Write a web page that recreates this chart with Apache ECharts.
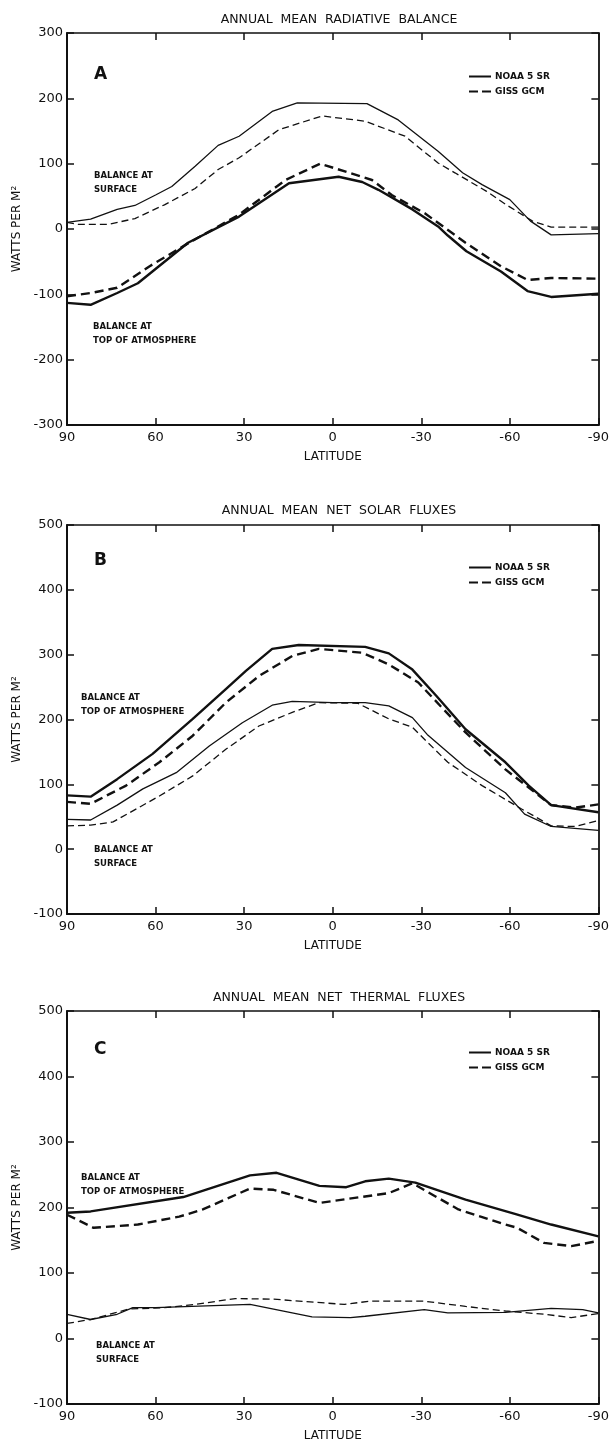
<!DOCTYPE html>
<html><head><meta charset="utf-8">
<script src="https://cdn.jsdelivr.net/npm/echarts@6/dist/echarts.min.js"></script>
<style>html,body{margin:0;padding:0;background:#fff}#c{width:612px;height:1443px}</style>
</head><body><div id="c"></div>
<script>
// ---------- Panel A: annual mean radiative balance ----------
const latA_noaaSfc = [90, 82, 73, 67, 60, 54.5, 46.6, 38.8, 31.7, 20.5, 12, -11.6, -22.2, -35.7, -44, -50.6, -60, -67, -74, -90];
const valA_noaaSfc = [10, 15, 30, 36, 52, 65, 96, 128, 142, 180, 193, 192, 167, 119, 86, 68, 45, 12, -9, -7];
const latA_gissSfc = [90, 86, 76, 67, 57, 46.6, 38.8, 31.7, 18.2, 3.6, -11, -24.5, -35.7, -41.4, -52, -58.5, -67.7, -74, -90];
const valA_gissSfc = [10, 7, 7, 16, 37, 62, 91, 109, 152, 173, 165, 142, 101, 86, 58, 38, 12, 3, 3];
const latA_noaaToa = [90, 82, 73, 66, 49, 31.7, 14.8, -2, -10, -15.5, -27, -35.7, -39, -45.3, -57, -66, -74, -90];
const valA_noaaToa = [-113, -116, -98, -83, -21, 19, 70, 80, 72, 60, 30, 4, -10, -34, -65, -95, -104, -99];
const latA_gissToa = [90, 82, 73, 62, 49, 31.7, 16, 4.2, -13.3, -20, -31.2, -45, -57, -66, -74, -90];
const valA_gissToa = [-103, -98, -90, -57, -22, 22, 75, 100, 75, 52, 24, -21, -57, -78, -75, -76];

// ---------- Panel B: annual mean net solar fluxes ----------
const latB_noaaToa = [90, 82, 73, 61, 47.4, 36.2, 29.4, 20.5, 11.5, -11, -19, -27, -35, -45, -58.5, -66.4, -74, -90];
const valB_noaaToa = [83, 81, 108, 147, 201, 247, 275, 309, 315, 312, 302, 277, 237, 185, 134, 98, 68, 57];
const latB_gissToa = [90, 82, 70, 58.7, 47.4, 36.2, 25, 13.7, 4.7, -10, -19, -29, -37.5, -45, -58.5, -66.4, -74, -82, -90];
const valB_gissToa = [73, 70, 98, 134, 175, 226, 267, 298, 309, 303, 285, 257, 216, 180, 123, 95, 68, 64, 69];
const latB_noaaSfc = [90, 82, 73, 64.3, 53, 41.8, 30.6, 20.5, 13.7, 0, -11, -19, -27, -32, -45, -58.5, -65, -74, -90];
const valB_noaaSfc = [46, 45, 68, 93, 118, 159, 195, 222, 228, 226, 226, 221, 203, 177, 126, 87, 54, 35, 29];
const latB_gissSfc = [90, 82, 74.4, 58.7, 47.4, 36.2, 25, 13.7, 4.7, -8.5, -19, -27, -39, -50.6, -64, -74, -82, -90];
const valB_gissSfc = [36, 37, 42, 82, 113, 154, 190, 211, 226, 225, 201, 188, 134, 98, 62, 36, 35, 44];

// ---------- Panel C: annual mean net thermal fluxes ----------
const latC_noaaToa = [90, 82, 50.6, 28, 19, 4.5, -4.6, -11, -19, -28, -45, -62, -74, -90];
const valC_noaaToa = [192, 194, 216, 249, 253, 233, 231, 240, 244, 238, 212, 190, 174, 156];
const latC_gissToa = [90, 81, 66, 52, 44, 28, 20, 4.5, -19, -27, -42.6, -58.5, -62.5, -71.6, -80.8, -90];
const valC_gissToa = [189, 169, 174, 186, 197, 229, 227, 207, 222, 237, 197, 174, 169, 146, 141, 149];
const latC_noaaSfc = [90, 82, 73, 67.7, 60, 28, 7, -6, -11, -31, -39, -58.5, -74, -84.7, -90];
const valC_noaaSfc = [37, 29, 37, 47, 47, 52, 33, 32, 34, 44, 39, 40, 46, 44, 39];
const latC_gissSfc = [90, 82, 69, 57, 46.6, 33, 20, -4, -12.5, -31, -45, -58.5, -71.6, -80.8, -90];
const valC_gissSfc = [23, 29, 45, 47, 52, 61, 60, 52, 57, 57, 49, 42, 37, 32, 38];

// ---------- axes / text ----------
const panelTitles = ['ANNUAL  MEAN  RADIATIVE  BALANCE', 'ANNUAL  MEAN  NET  SOLAR  FLUXES', 'ANNUAL  MEAN  NET  THERMAL  FLUXES'];
const panelLetters = ['A', 'B', 'C'];
const yMins = [-300, -100, -100];
const yMaxs = [300, 500, 500];
const yStep = 100;
const xMin = -90, xMax = 90, xStep = 30;
const seriesNames = ['NOAA 5 SR', 'GISS GCM'];
const surfLabel = 'BALANCE AT\nSURFACE';
const toaLabel = 'BALANCE AT\nTOP OF ATMOSPHERE';

const zip = (a, b) => a.map((v, i) => [v, b[i]]);

// layout
const grids = [
  {left: 67, right: 11, top: 33, height: 392},
  {left: 67, right: 11, top: 525, height: 389},
  {left: 67, right: 11, top: 1011, height: 393}
];
const FONT = 'DejaVu Sans';
const black = '#111';
const solidIcon = 'path://M0,0h22v2h-22z';
const dashIcon = 'path://M0,0h9v2h-9zM13,0h9v2h-9z';

const panels = [
  {noaaToa: zip(latA_noaaToa, valA_noaaToa), gissToa: zip(latA_gissToa, valA_gissToa), noaaSfc: zip(latA_noaaSfc, valA_noaaSfc), gissSfc: zip(latA_gissSfc, valA_gissSfc),
   sfcPos: [89, 164], toaPos: [88, 315], letterTop: 61, legendTop: 67},
  {noaaToa: zip(latB_noaaToa, valB_noaaToa), gissToa: zip(latB_gissToa, valB_gissToa), noaaSfc: zip(latB_noaaSfc, valB_noaaSfc), gissSfc: zip(latB_gissSfc, valB_gissSfc),
   sfcPos: [89, 838], toaPos: [76, 686], letterTop: 547, legendTop: 558},
  {noaaToa: zip(latC_noaaToa, valC_noaaToa), gissToa: zip(latC_gissToa, valC_gissToa), noaaSfc: zip(latC_noaaSfc, valC_noaaSfc), gissSfc: zip(latC_gissSfc, valC_gissSfc),
   sfcPos: [91, 1334], toaPos: [76, 1166], letterTop: 1036, legendTop: 1043}
];

const titleTops = [8, 499, 986];

const option = {
  animation: false,
  backgroundColor: '#fff',
  textStyle: {fontFamily: FONT, color: black},
  grid: grids,
  title: [],
  legend: [],
  xAxis: [],
  yAxis: [],
  series: []
};

panels.forEach((p, i) => {
  const suffix = '\u200b'.repeat(i);
  option.title.push({text: panelTitles[i], left: 334, top: titleTops[i], textAlign: 'center',
    textStyle: {fontFamily: FONT, fontSize: 12.5, fontWeight: 'normal', color: black}});
  option.title.push({text: panelLetters[i], left: 89, top: p.letterTop,
    textStyle: {fontFamily: FONT, fontSize: 17, fontWeight: 'bold', color: black}});
  option.title.push({text: surfLabel, left: p.sfcPos[0], top: p.sfcPos[1],
    textStyle: {fontFamily: FONT, fontSize: 8.5, fontWeight: 'bold', color: black, lineHeight: 14}});
  option.title.push({text: toaLabel, left: p.toaPos[0], top: p.toaPos[1],
    textStyle: {fontFamily: FONT, fontSize: 8.5, fontWeight: 'bold', color: black, lineHeight: 14}});

  option.legend.push({
    orient: 'vertical', left: 464, top: p.legendTop, itemWidth: 22, itemHeight: 2, itemGap: 6,
    data: [{name: seriesNames[0] + suffix, icon: solidIcon}, {name: seriesNames[1] + suffix, icon: dashIcon}],
    itemStyle: {color: black},
    textStyle: {fontFamily: FONT, fontSize: 9, fontWeight: 'bold', color: black, padding: [0, 0, 0, -1]},
    formatter: n => n.replace(/\u200b/g, ''),
    selectedMode: false
  });

  const ax = {
    type: 'value', min: xMin, max: xMax, interval: xStep, inverse: true, gridIndex: i
  };
  option.xAxis.push(Object.assign({}, ax, {
    position: 'bottom',
    name: 'LATITUDE', nameLocation: 'middle', nameGap: 26,
    nameTextStyle: {fontFamily: FONT, fontSize: 12, color: black},
    axisLine: {onZero: false, lineStyle: {color: black, width: 2}},
    axisTick: {inside: true, length: 7, lineStyle: {color: black, width: 1.5}},
    axisLabel: {fontFamily: FONT, fontSize: 13, color: black, margin: 6},
    splitLine: {show: false}
  }));
  option.xAxis.push(Object.assign({}, ax, {
    position: 'top',
    axisLine: {onZero: false, lineStyle: {color: black, width: 1.5}},
    axisTick: {inside: true, length: 7, lineStyle: {color: black, width: 1.5}},
    axisLabel: {show: false},
    splitLine: {show: false}
  }));
  const ay = {type: 'value', min: yMins[i], max: yMaxs[i], interval: yStep, gridIndex: i};
  option.yAxis.push(Object.assign({}, ay, {
    position: 'left',
    name: 'WATTS PER M\u00b2', nameLocation: 'middle', nameGap: 37, nameRotate: 90,
    nameTextStyle: {fontFamily: FONT, fontSize: 12, color: black},
    axisLine: {onZero: false, lineStyle: {color: black, width: 2}},
    axisTick: {inside: true, length: 7, lineStyle: {color: black, width: 1.5}},
    axisLabel: {fontFamily: FONT, fontSize: 13, color: black, margin: 4},
    splitLine: {show: false}
  }));
  option.yAxis.push(Object.assign({}, ay, {
    position: 'right',
    axisLine: {onZero: false, lineStyle: {color: black, width: 1.8}},
    axisTick: {inside: true, length: 7, lineStyle: {color: black, width: 1.5}},
    axisLabel: {show: false},
    splitLine: {show: false}
  }));

  const base = {type: 'line', xAxisIndex: 2 * i, yAxisIndex: 2 * i, symbol: 'none', silent: true};
  option.series.push(Object.assign({}, base, {name: seriesNames[0] + suffix, data: p.noaaToa,
    lineStyle: {color: black, width: 2.4, type: 'solid'}, itemStyle: {color: black}}));
  option.series.push(Object.assign({}, base, {name: seriesNames[1] + suffix, data: p.gissToa,
    lineStyle: {color: black, width: 2.4, type: [9, 5]}, itemStyle: {color: black}}));
  option.series.push(Object.assign({}, base, {name: seriesNames[0] + suffix + '\u200c', data: p.noaaSfc,
    lineStyle: {color: black, width: 1.3, type: 'solid'}, itemStyle: {color: black}}));
  option.series.push(Object.assign({}, base, {name: seriesNames[1] + suffix + '\u200c', data: p.gissSfc,
    lineStyle: {color: black, width: 1.3, type: [7, 4]}, itemStyle: {color: black}}));
});

const chart = echarts.init(document.getElementById('c'), null, {renderer: 'canvas'});
chart.setOption(option);
</script>
</body></html>
